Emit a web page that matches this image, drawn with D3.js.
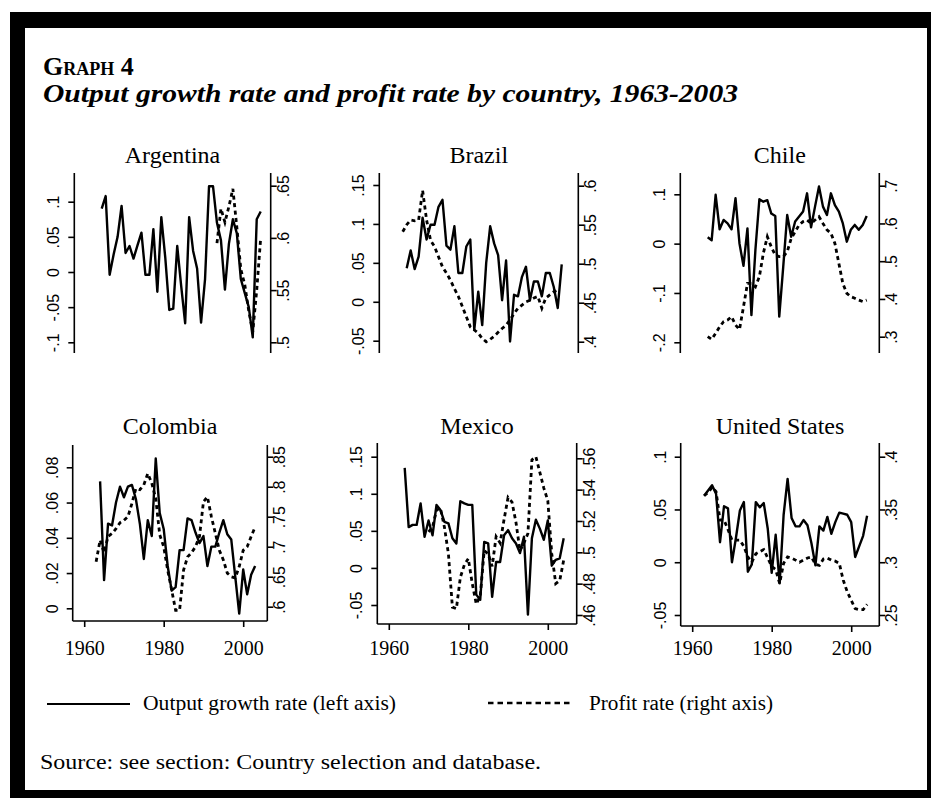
<!DOCTYPE html>
<html><head><meta charset="utf-8">
<script src="https://cdn.jsdelivr.net/npm/d3@7"></script>
<style>body{margin:0;background:#fff}svg{display:block}</style>
</head><body>
<svg id="c" width="931" height="798"></svg>
<script>
// ---------- DATA ----------
const years = [1963,1964,1965,1966,1967,1968,1969,1970,1971,1972,1973,1974,1975,1976,1977,1978,1979,1980,1981,1982,1983,1984,1985,1986,1987,1988,1989,1990,1991,1992,1993,1994,1995,1996,1997,1998,1999,2000,2001,2002,2003,2004];
const countries = ["Argentina","Brazil","Chile","Colombia","Mexico","United States"];

const argGrowth = [null,.09,.108,-.004,.025,.05,.094,.027,.037,.019,.038,.056,-.004,-.004,.061,-.028,.078,.02,-.054,-.052,.037,-.02,-.073,.078,.03,.005,-.072,-.01,.122,.122,.07,.045,-.025,.04,.075,.055,-.01,-.03,-.05,-.093,.075,.086];
const argProfit = [null,null,null,null,null,null,null,null,null,null,null,null,null,null,null,null,null,null,null,null,null,null,null,null,null,null,null,null,null,null,.595,.628,.615,.63,.647,.61,.57,.555,.53,.51,.55,.60];

const braGrowth = [null,.043,.066,.042,.058,.108,.08,.099,.099,.122,.131,.072,.067,.097,.037,.037,.071,.08,-.036,.013,-.03,.05,.097,.075,.06,.002,.053,-.051,.009,.007,.032,.045,.002,.026,.026,.007,.037,.037,.019,-.008,.048,null];
const braProfit = [.541,.55,.556,.555,.556,.594,.556,.53,.522,.509,.496,.488,.479,.468,.458,.445,.432,.419,.415,.411,.404,.40,.403,.407,.412,.417,.421,.428,.436,.443,.447,.451,.453,.456,.458,.443,.456,.46,.464,.466,null,null];

const chiGrowth = [null,.013,.007,.099,.029,.048,.041,.029,.092,.0,-.045,.031,-.145,-.013,.09,.085,.088,.061,.056,-.148,-.047,.058,.014,.045,.055,.065,.102,.033,.075,.116,.075,.058,.102,.078,.065,.041,.004,.028,.038,.028,.038,.056];
const chiProfit = [null,.30,.293,.309,.326,.34,.344,.353,.331,.319,.379,.441,.441,.432,.459,.521,.565,.538,.516,.512,.512,.525,.56,.578,.596,.605,.609,.60,.609,.618,.60,.583,.574,.547,.494,.441,.415,.406,.402,.397,.393,.397];

const colGrowth = [null,.072,.016,.048,.047,.06,.069,.063,.069,.07,.062,.048,.028,.05,.041,.085,.054,.045,.024,.010,.012,.033,.033,.051,.05,.043,.037,.041,.024,.035,.035,.043,.05,.042,.039,.018,-.003,.022,.008,.019,.024,null];
const colProfit = [.675,.711,.69,.717,.722,.73,.74,.744,.75,.772,.797,.795,.803,.822,.806,.78,.72,.70,.661,.628,.594,.594,.661,.683,.69,.70,.717,.775,.783,.75,.722,.694,.678,.656,.65,.648,.667,.694,.70,.717,.733,null];

const mexGrowth = [null,.135,.055,.058,.058,.087,.042,.064,.044,.085,.078,.062,.06,.04,.033,.09,.087,.085,.085,-.036,-.043,.035,.033,-.039,.008,.008,.044,.051,.04,.033,.02,.042,-.063,.04,.065,.053,.038,.064,.003,.011,.013,.04];
const mexProfit = [null,null,null,null,null,null,null,.513,.516,.527,.528,.516,.499,.465,.464,.484,.492,.496,.48,.467,.472,.501,.499,.491,.51,.506,.521,.535,.532,.519,.501,.506,.512,.559,.561,.551,.541,.533,.499,.48,.482,.495];

const usGrowth = [.063,.068,.073,.065,.019,.053,.051,.0,.023,.049,.057,-.009,-.002,.057,.052,.056,.032,-.01,.026,-.02,.045,.079,.042,.034,.034,.04,.035,.018,-.003,.034,.03,.043,.027,.038,.047,.046,.045,.038,.005,.015,.025,.044];
const usProfit = [.363,.366,.371,.367,.34,.34,.331,.321,.321,.321,.315,.305,.30,.308,.31,.312,.304,.296,.293,.28,.299,.305,.304,.302,.30,.302,.304,.305,.298,.297,.303,.304,.302,.301,.299,.283,.272,.264,.256,.255,.255,.26];

const leftTicks = [[-.1,-.05,0,.05,.1],[-.05,0,.05,.1,.15],[-.2,-.1,0,.1],[0,.02,.04,.06,.08],[-.05,0,.05,.1,.15],[-.05,0,.05,.1]];
const rightTicks = [[.5,.55,.6,.65],[.4,.45,.5,.55,.6],[.3,.4,.5,.6,.7],[.6,.65,.7,.75,.8,.85],[.46,.48,.5,.52,.54,.56],[.25,.3,.35,.4]];
const xTicks = [1960,1980,2000];
const growthSeries = [argGrowth,braGrowth,chiGrowth,colGrowth,mexGrowth,usGrowth];
const profitSeries = [argProfit,braProfit,chiProfit,colProfit,mexProfit,usProfit];

// ---------- LAYOUT ----------
const layout = [
  {l:74.3, r:270.7, t:173, b:353, yl:[342.3,201.7], yr:[342.3,185.7], xaxis:false},
  {l:379.3,r:578.3, t:173, b:353, yl:[340.7,185],   yr:[341.7,185.7], xaxis:false},
  {l:680.3,r:879.3, t:173, b:353, yl:[342.3,194.3], yr:[336.7,185.7], xaxis:false},
  {l:72.7, r:267.3, t:445, b:621, yl:[608.3,467.3], yr:[606.7,456.7], xaxis:true},
  {l:377.3,r:576.7, t:443, b:624, yl:[605,456.7],   yr:[615,458.3],   xaxis:true},
  {l:680.7,r:879.3, t:443, b:626, yl:[615,456.7],   yr:[615,456.7],   xaxis:true}
];
const titleY = [163,163,163,434,434,434];
const SERIF = "'Liberation Serif','Times New Roman',serif";
const SANS = "'Liberation Sans',Arial,sans-serif";

const svg = d3.select("#c");
// frame
svg.append("rect").attr("x",10).attr("y",12).attr("width",921).attr("height",786).attr("fill","#000");
svg.append("rect").attr("x",25).attr("y",28).attr("width",902).attr("height",762).attr("fill","#fff");

// headings
svg.append("text").attr("x",43).attr("y",75).attr("font-family",SERIF).attr("font-size",26)
  .attr("font-weight","bold").style("font-variant","small-caps").text("Graph 4");
svg.append("text").attr("x",43).attr("y",102).attr("font-family",SERIF).attr("font-size",26)
  .attr("font-weight","bold").attr("font-style","italic")
  .attr("textLength",695).attr("lengthAdjust","spacingAndGlyphs")
  .text("Output growth rate and profit rate by country, 1963-2003");

const fmt = v => {
  if (Math.abs(v) < 1e-9) return "0";
  const s = String(+Math.abs(v).toFixed(3)).replace(/^0\./, ".");
  return (v < 0 ? "-" : "") + s;
};

countries.forEach((name, i) => {
  const L = layout[i];
  const g = svg.append("g");
  const x = d3.scaleLinear().domain([1960, 2000]).range([L.l + 11.5, L.l + 170.5]);
  const lt = leftTicks[i], rt = rightTicks[i];
  const yl = d3.scaleLinear().domain([lt[0], lt[lt.length-1]]).range(L.yl);
  const yr = d3.scaleLinear().domain([rt[0], rt[rt.length-1]]).range(L.yr);

  // title
  g.append("text").attr("x",(L.l+L.r)/2).attr("y",titleY[i]).attr("text-anchor","middle")
    .attr("font-family",SERIF).attr("font-size",24).text(name);

  // left axis
  const la = g.append("g").attr("transform",`translate(${L.l},0)`)
    .call(d3.axisLeft(yl).tickValues(lt).tickSize(6).tickFormat(fmt));
  la.select(".domain").remove();
  la.append("line").attr("y1",L.t).attr("y2",L.b).attr("stroke","#000").attr("stroke-width",1.6);
  la.selectAll(".tick line").attr("stroke-width",1.6);
  la.selectAll(".tick text").attr("font-family",SANS).attr("font-size",16).attr("fill","#000")
    .attr("transform","rotate(-90)").attr("x",0).attr("y",-15).attr("dy",0).attr("text-anchor","middle");

  // right axis
  const ra = g.append("g").attr("transform",`translate(${L.r},0)`)
    .call(d3.axisRight(yr).tickValues(rt).tickSize(6).tickFormat(fmt));
  ra.select(".domain").remove();
  ra.append("line").attr("y1",L.t).attr("y2",L.b).attr("stroke","#000").attr("stroke-width",1.6);
  ra.selectAll(".tick line").attr("stroke-width",1.6);
  ra.selectAll(".tick text").attr("font-family",SANS).attr("font-size",16).attr("fill","#000")
    .attr("transform","rotate(-90)").attr("x",0).attr("y",18).attr("dy",0).attr("text-anchor","middle");

  // bottom axis
  if (L.xaxis) {
    const xa = g.append("g").attr("transform",`translate(0,${L.b})`)
      .call(d3.axisBottom(x).tickValues(xTicks).tickSize(6).tickFormat(d3.format("d")));
    xa.select(".domain").remove();
    xa.append("line").attr("x1",L.l).attr("x2",L.r).attr("stroke","#000").attr("stroke-width",1.6);
    xa.selectAll(".tick line").attr("stroke-width",1.6);
    xa.selectAll(".tick text").attr("font-family",SERIF).attr("font-size",20).attr("fill","#000")
      .attr("y",655 - L.b).attr("dy",0);
  }

  const gr = years.map((yv, k) => ({yr: yv, v: growthSeries[i][k]}));
  const pr = years.map((yv, k) => ({yr: yv, v: profitSeries[i][k]}));
  const lineL = d3.line().defined(d => d.v != null).x(d => x(d.yr)).y(d => yl(d.v));
  const lineR = d3.line().defined(d => d.v != null).x(d => x(d.yr)).y(d => yr(d.v));
  g.append("path").attr("d", lineR(pr)).attr("fill","none").attr("stroke","#000")
    .attr("stroke-width",2.8).attr("stroke-dasharray","4,3.5");
  g.append("path").attr("d", lineL(gr)).attr("fill","none").attr("stroke","#000")
    .attr("stroke-width",2.4).attr("stroke-linejoin","round");
});

// legend
const lg = svg.append("g");
lg.append("line").attr("x1",47).attr("x2",130).attr("y1",704).attr("y2",704).attr("stroke","#000").attr("stroke-width",2.2);
lg.append("text").attr("x",143).attr("y",710).attr("font-family",SERIF).attr("font-size",20)
  .attr("textLength",253).attr("lengthAdjust","spacingAndGlyphs").text("Output growth rate (left axis)");
lg.append("line").attr("x1",488).attr("x2",573).attr("y1",703).attr("y2",703).attr("stroke","#000")
  .attr("stroke-width",2.6).attr("stroke-dasharray","5.5,4");
lg.append("text").attr("x",589).attr("y",710).attr("font-family",SERIF).attr("font-size",20)
  .attr("textLength",184).attr("lengthAdjust","spacingAndGlyphs").text("Profit rate (right axis)");

svg.append("text").attr("x",40).attr("y",769).attr("font-family",SERIF).attr("font-size",20)
  .attr("textLength",501).attr("lengthAdjust","spacingAndGlyphs").text("Source: see section: Country selection and database.");
</script>
</body></html>
